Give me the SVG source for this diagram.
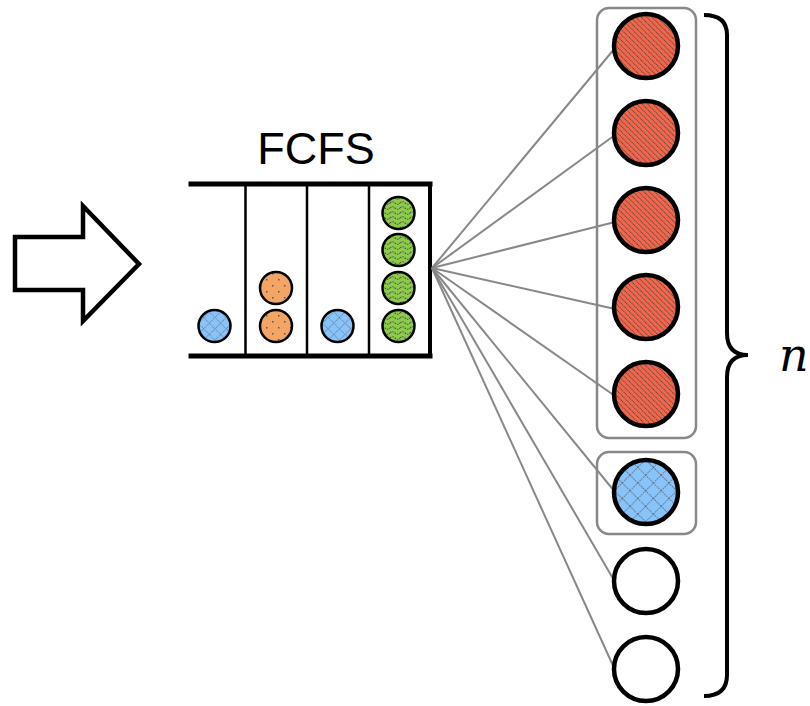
<svg xmlns="http://www.w3.org/2000/svg" width="810" height="706" viewBox="0 0 810 706">
  <style>
    .ball { stroke: #000; stroke-width: 2.5; }
    .server { stroke: #000; stroke-width: 4.5; }
    .group { fill: none; stroke: #888; stroke-width: 2.5; }
    .link { stroke: #888; stroke-width: 2; fill: none; }
    .wall { stroke: #000; fill: none; stroke-linecap: square; }
  </style>
  <defs>
    <!-- red: diagonal dotted stripes -->
    <pattern id="pRed" patternUnits="userSpaceOnUse" width="3.8" height="3.8" patternTransform="rotate(-45)">
      <rect width="3.8" height="3.8" fill="#f2674b"/>
      <line x1="0" y1="0" x2="0" y2="3.8" stroke="#444" stroke-width="1.8" stroke-dasharray="1.3 0.6"/>
    </pattern>
    <!-- blue: crosshatch grid (large) -->
    <pattern id="pBlueL" patternUnits="userSpaceOnUse" width="11" height="11" patternTransform="rotate(45)">
      <rect width="11" height="11" fill="#88c3fa"/>
      <path d="M0 0H11M0 0V11" stroke="#555" stroke-width="1.4" stroke-dasharray="1.5 1"/>
    </pattern>
    <!-- blue: crosshatch grid (small) -->
    <pattern id="pBlueS" patternUnits="userSpaceOnUse" width="8" height="8" patternTransform="rotate(45)">
      <rect width="8" height="8" fill="#88c3fa"/>
      <path d="M0 0H8M0 0V8" stroke="#555" stroke-width="1.1" stroke-dasharray="1.2 0.8"/>
    </pattern>
    <!-- orange: sparse dots -->
    <pattern id="pOrange" patternUnits="userSpaceOnUse" width="12" height="12">
      <rect width="12" height="12" fill="#f2a565"/>
      <rect x="2" y="3" width="1.5" height="1.5" fill="#555"/>
      <rect x="8" y="9" width="1.5" height="1.5" fill="#555"/>
    </pattern>
    <!-- green: wavy dashed stripes -->
    <pattern id="pGreen" patternUnits="userSpaceOnUse" width="10" height="5">
      <rect width="10" height="5" fill="#8dcc48"/>
      <path d="M0 3 Q2.5 0.5 5 3 T10 3" stroke="#555" stroke-width="1.1" fill="none" stroke-dasharray="1.6 1"/>
    </pattern>
  </defs>

  <!-- arrival arrow -->
  <g id="arrival">
    <polygon points="15,237 83,237 83,206 139,264 83,321 83,290 15,290" fill="#fff" stroke="#000" stroke-width="4.5" stroke-linejoin="miter"/>
  </g>

  <!-- FCFS queue -->
  <g id="queue">
    <text x="316" y="164" font-family="Liberation Sans, Arial, sans-serif" font-size="45" text-anchor="middle" fill="#000">FCFS</text>
    <line class="wall" x1="191" y1="184" x2="430" y2="184" stroke-width="5"/>
    <line class="wall" x1="191" y1="356" x2="430" y2="356" stroke-width="5"/>
    <line class="wall" x1="430" y1="184" x2="430" y2="356" stroke-width="4"/>
    <line x1="245.5" y1="184" x2="245.5" y2="356" stroke="#000" stroke-width="2.5"/>
    <line x1="307" y1="184" x2="307" y2="356" stroke="#000" stroke-width="2.5"/>
    <line x1="369" y1="184" x2="369" y2="356" stroke="#000" stroke-width="2.5"/>
  </g>

  <!-- jobs waiting in the queue -->
  <g id="job1"><circle class="ball" cx="214.5" cy="326" r="16" fill="url(#pBlueS)"/></g>
  <g id="job2">
    <circle class="ball" cx="276" cy="326" r="16" fill="url(#pOrange)"/>
    <circle class="ball" cx="276" cy="288" r="16" fill="url(#pOrange)"/>
  </g>
  <g id="job3"><circle class="ball" cx="337.5" cy="326" r="16" fill="url(#pBlueS)"/></g>
  <g id="job4">
    <circle class="ball" cx="398.5" cy="326" r="16" fill="url(#pGreen)"/>
    <circle class="ball" cx="398.5" cy="288" r="16" fill="url(#pGreen)"/>
    <circle class="ball" cx="398.5" cy="250" r="16" fill="url(#pGreen)"/>
    <circle class="ball" cx="398.5" cy="213" r="16" fill="url(#pGreen)"/>
  </g>

  <!-- dispatch links to servers -->
  <g id="connectors">
    <line class="link" x1="432" y1="268" x2="615" y2="48"/>
    <line class="link" x1="432" y1="268" x2="615" y2="135"/>
    <line class="link" x1="432" y1="268" x2="615" y2="222"/>
    <line class="link" x1="432" y1="268" x2="615" y2="309"/>
    <line class="link" x1="432" y1="268" x2="615" y2="396"/>
    <line class="link" x1="432" y1="268" x2="615" y2="492"/>
    <line class="link" x1="432" y1="268" x2="615" y2="582"/>
    <line class="link" x1="432" y1="268" x2="615" y2="670"/>
  </g>

  <!-- server groups -->
  <g id="groupRed"><rect class="group" x="597" y="8" width="99" height="430" rx="12"/></g>
  <g id="groupBlue"><rect class="group" x="597" y="452" width="99" height="82" rx="12"/></g>

  <!-- servers -->
  <g id="server1"><circle class="server" cx="646" cy="46" r="32" fill="url(#pRed)"/></g>
  <g id="server2"><circle class="server" cx="646" cy="133" r="32" fill="url(#pRed)"/></g>
  <g id="server3"><circle class="server" cx="646" cy="220" r="32" fill="url(#pRed)"/></g>
  <g id="server4"><circle class="server" cx="646" cy="307" r="32" fill="url(#pRed)"/></g>
  <g id="server5"><circle class="server" cx="646" cy="394" r="32" fill="url(#pRed)"/></g>
  <g id="server6"><circle class="server" cx="646" cy="492" r="32" fill="url(#pBlueL)"/></g>
  <g id="server7"><circle class="server" cx="646" cy="581" r="32" fill="#fff"/></g>
  <g id="server8"><circle class="server" cx="646" cy="669" r="32" fill="#fff"/></g>

  <!-- brace with n -->
  <g id="brace">
    <path d="M704 15 Q727 15 727 35 V333 Q727 355 748 355 Q727 355 727 377 V675 Q727 696 704 696" fill="none" stroke="#000" stroke-width="4"/>
    <text x="779" y="371" font-family="'DejaVu Serif', 'Liberation Serif', serif" font-style="italic" font-size="46" fill="#000">n</text>
  </g>
</svg>
